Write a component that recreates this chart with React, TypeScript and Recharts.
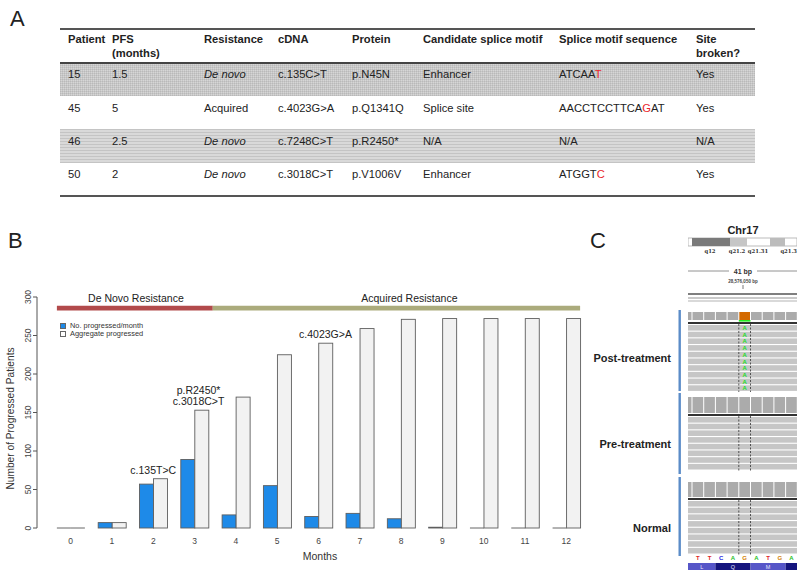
import React from 'react';
import { BarChart, Bar, XAxis, YAxis, ReferenceArea, ReferenceDot, Legend } from 'recharts';

const FONT = '"Liberation Sans", Arial, Helvetica, sans-serif';

// ---------- Panel B data ----------
const months = ['0', '1', '2', '3', '4', '5', '6', '7', '8', '9', '10', '11', '12'];
const progressedPerMonth = [0, 7, 57, 89, 17, 55, 15, 19, 12, 1, 0, 0, 0];
const aggregateProgressed = [0, 7, 64, 153, 170, 225, 240, 259, 271, 272, 272, 272, 272];
const yTicks = [0, 50, 100, 150, 200, 250, 300];

const phaseNames = ['De Novo Resistance', 'Acquired Resistance'];
const phaseStart = [-0.333, 3.44];
const phaseEnd = [3.44, 12.333];
const phaseLabelAt = [1.58, 8.2];
const phaseColors = ['#b24a4b', '#abab7c'];

const noteMonth = [2, 3, 6];
const noteValue = [64, 153, 240];
const noteLines = [['c.135T>C'], ['p.R2450*', 'c.3018C>T'], ['c.4023G>A']];
const noteShift = [0, 4, 7];

// ---------- Panel A data ----------
const tableHeaders = [['Patient'], ['PFS', '(months)'], ['Resistance'], ['cDNA'], ['Protein'], ['Candidate splice motif'], ['Splice motif sequence'], ['Site', 'broken?']];
const patients = ['15', '45', '46', '50'];
const pfsMonths = ['1.5', '5', '2.5', '2'];
const resistanceType = ['De novo', 'Acquired', 'De novo', 'De novo'];
const cdnaChanges = ['c.135C>T', 'c.4023G>A', 'c.7248C>T', 'c.3018C>T'];
const proteinChanges = ['p.N45N', 'p.Q1341Q', 'p.R2450*', 'p.V1006V'];
const spliceMotifs = ['Enhancer', 'Splice site', 'N/A', 'Enhancer'];
const motifSequences = [['ATCAA', 'T', ''], ['AACCTCCTTCA', 'G', 'AT'], ['N/A', '', ''], ['ATGGT', 'C', '']];
const siteBroken = ['Yes', 'Yes', 'N/A', 'Yes'];

// ---------- Panel C data ----------
const refBases = ['T', 'T', 'C', 'A', 'G', 'A', 'T', 'G', 'A'];
const aminoAcids = ['L', 'Q', 'M', ''];
const sampleNames = ['Post-treatment', 'Pre-treatment', 'Normal'];
const readCounts = [10, 8, 8];
const bandLabels = ['q12', 'q21.2', 'q21.31', 'q21.3'];

const chartData = months.map((m, i) => ({ month: m, idx: i, perMonth: progressedPerMonth[i], aggregate: aggregateProgressed[i] }));
const legendOrder = ['perMonth', 'aggregate'];

function BarShape(p: any) {
  const { x, y, width, height, fill } = p;
  if (!(height > 0)) {
    return <line x1={x} x2={x + width} y1={y + (height || 0)} y2={y + (height || 0)} stroke="#666" strokeWidth={1} />;
  }
  return <rect x={x} y={y} width={width} height={height} fill={fill} stroke="#5e5e5e" strokeWidth={0.9} />;
}

const XTick = (p: any) => (
  <text x={p.x} y={p.y} dy={8} textAnchor="middle" fontSize={8.5} fill="#444" fontFamily={FONT}>{p.payload.value}</text>
);
const YTick = (p: any) => (
  <text x={p.x} y={p.y} transform={`rotate(-90 ${p.x} ${p.y})`} textAnchor="middle" fontSize={8.5} fill="#444" fontFamily={FONT}>{p.payload.value}</text>
);

const yLabel = (p: any) => {
  const vb = p.viewBox;
  const cx = vb.x + 14;
  const cy = vb.y + vb.height / 2 + 6;
  return <text x={cx} y={cy} transform={`rotate(-90 ${cx} ${cy})`} textAnchor="middle" fontSize={10.2} fill="#333" fontFamily={FONT}>Number of Progressed Patients</text>;
};
const xLabel = (p: any) => {
  const vb = p.viewBox;
  return <text x={vb.x + vb.width / 2 + 8} y={vb.y + 32} textAnchor="middle" fontSize={10.5} fill="#333" fontFamily={FONT}>Months</text>;
};

const noteLabel = (lines: string[], dx: number) => (p: any) => {
  const { x, y } = p.viewBox;
  const lh = 11.5;
  return (
    <text x={x + dx} y={y - 5 - (lines.length - 1) * lh} textAnchor="middle" fontSize={10.5} fill="#222" fontFamily={FONT}>
      {lines.map((l, i) => <tspan key={i} x={x + dx} dy={i === 0 ? 0 : lh}>{l}</tspan>)}
    </text>
  );
};
const phaseLabel = (name: string) => (p: any) => {
  const { x, y } = p.viewBox;
  return <text x={x} y={y - 4} textAnchor="middle" fontSize={10.5} fill="#222" fontFamily={FONT}>{name}</text>;
};

const renderLegend = (props: any) => {
  const items = [...(props.payload || [])].sort((a: any, b: any) => legendOrder.indexOf(a.dataKey) - legendOrder.indexOf(b.dataKey));
  return (
    <div style={{ fontSize: 7.4, lineHeight: '8px', color: '#333', fontFamily: FONT, whiteSpace: 'nowrap' }}>
      {items.map((e: any) => (
        <div key={e.value} style={{ display: 'flex', alignItems: 'center', height: 8 }}>
          <span style={{ display: 'inline-block', width: 4, height: 4, background: e.color === '#f2f2f2' ? '#fff' : e.color, border: '0.8px solid #666', marginRight: 4 }} />
          <span>{e.value}</span>
        </div>
      ))}
    </div>
  );
};

function ProgressChart() {
  return (
    <BarChart width={800} height={575} data={chartData} margin={{ top: 297, right: 213, bottom: 0, left: 0 }} barCategoryGap="16.67%" barGap={0}>
      <XAxis dataKey="month" height={47} axisLine={false} tickLine={false} tickSize={6} tickMargin={2} tick={XTick} interval={0} padding={{ left: 13, right: 0 }} label={xLabel} />
      <XAxis xAxisId="pos" dataKey="idx" type="number" domain={[0, 12]} allowDataOverflow hide padding={{ left: 33.65, right: 20.65 }} />
      <YAxis width={37} domain={[0, 300]} ticks={yTicks} interval={0} tickSize={4} tickMargin={2} axisLine={{ stroke: '#555' }} tickLine={{ stroke: '#555' }} tick={YTick} label={yLabel} />
      <Legend layout="vertical" align="center" verticalAlign="middle" content={renderLegend} wrapperStyle={{ left: 60, top: 322, width: 140 }} />
      {phaseNames.map((n, i) => (
        <ReferenceArea key={n} xAxisId="pos" x1={phaseStart[i]} x2={phaseEnd[i]} y1={282.5} y2={288.5} fill={phaseColors[i]} fillOpacity={1} stroke="none" ifOverflow="visible" />
      ))}
      {phaseNames.map((n, i) => (
        <ReferenceDot key={'l' + n} xAxisId="pos" x={phaseLabelAt[i]} y={288.5} r={0} fill="none" stroke="none" ifOverflow="visible" label={phaseLabel(n)} />
      ))}
      <Bar dataKey="perMonth" name="No. progressed/month" fill="#1e8ae8" shape={BarShape} isAnimationActive={false} />
      <Bar dataKey="aggregate" name="Aggregate progressed" fill="#f2f2f2" shape={BarShape} isAnimationActive={false} />
      {noteMonth.map((m, i) => (
        <ReferenceDot key={'n' + i} xAxisId="pos" x={m} y={noteValue[i]} r={0} fill="none" stroke="none" ifOverflow="visible" label={noteLabel(noteLines[i], noteShift[i])} />
      ))}
    </BarChart>
  );
}

// ---------- Panel A ----------
const colX = [68, 112, 204, 278, 352, 423, 559, 696];
const rowTop = 63;
const rowH = 33.2;

function Cell({ x, cy, children, bold, italic }: any) {
  return (
    <div style={{ position: 'absolute', left: x, top: cy - 7, height: 14, lineHeight: '14px', fontSize: 11.2, fontWeight: bold ? 700 : 400, fontStyle: italic ? 'italic' : 'normal', whiteSpace: 'nowrap', color: '#222' }}>{children}</div>
  );
}

function TablePanel() {
  const rows = patients.map((p, i) => [p, pfsMonths[i], resistanceType[i], cdnaChanges[i], proteinChanges[i], spliceMotifs[i], motifSequences[i], siteBroken[i]]);
  const band0 = 'repeating-linear-gradient(0deg, rgba(0,0,0,0.07) 0 1px, transparent 1px 2px), repeating-linear-gradient(90deg, rgba(0,0,0,0.07) 0 1px, transparent 1px 2px), #d6d6d6';
  const band2 = 'repeating-linear-gradient(0deg, #c4c4c4 0 1px, #d9d9d9 1px 3px)';
  return (
    <div style={{ position: 'absolute', left: 0, top: 0, width: 800, height: 210 }}>
      <div style={{ position: 'absolute', left: 60, width: 695, top: 28, height: 2, background: '#555' }} />
      <div style={{ position: 'absolute', left: 60, width: 695, top: rowTop, height: rowH, background: band0 }} />
      <div style={{ position: 'absolute', left: 60, width: 695, top: rowTop + 2 * rowH, height: rowH, background: band2 }} />
      <div style={{ position: 'absolute', left: 60, width: 695, top: 62, height: 1.5, background: '#444' }} />
      <div style={{ position: 'absolute', left: 60, width: 695, top: 195, height: 2, background: '#555' }} />
      {tableHeaders.map((h, c) => h.map((t, k) => <Cell key={c + '-' + k} x={colX[c]} cy={39 + k * 14} bold>{t}</Cell>))}
      {rows.map((r, i) => r.map((v: any, c) => {
        const cy = rowTop + i * rowH + 11.3;
        if (c === 6) {
          return <Cell key={i + '-' + c} x={colX[c]} cy={cy}>{v[0]}<span style={{ color: '#e8262b' }}>{v[1]}</span>{v[2]}</Cell>;
        }
        return <Cell key={i + '-' + c} x={colX[c]} cy={cy} italic={c === 2 && v === 'De novo'}>{v}</Cell>;
      }))}
    </div>
  );
}

// ---------- Panel C ----------
const baseColor: Record<string, string> = { T: '#e02525', C: '#2525e0', A: '#25c025', G: '#d48000' };

function IGVPanel() {
  const x0 = 688, x1 = 797;
  const gx = (i: number) => 692 + i * 11.7;
  const sections = [
    { top: 310, bottom: 391, covTop: 312, covH: 8, lineY: 322, readsTop: 325, labelY: 358 },
    { top: 393, bottom: 474, covTop: 397, covH: 16, lineY: 414, readsTop: 417, labelY: 444 },
    { top: 477, bottom: 556, covTop: 482, covH: 15, lineY: 498, readsTop: 501, labelY: 528 },
  ];
  const boxes = [-1, 0, 1, 2, 3, 4, 5, 6, 7, 8];
  const bandX = [710, 737, 758, 797];
  return (
    <svg width={800} height={575} style={{ position: 'absolute', left: 0, top: 0 }} fontFamily={FONT}>
      <defs>
        <clipPath id="igvclip"><rect x={x0} y={220} width={x1 - x0} height={360} /></clipPath>
      </defs>
      <text x={10} y={26} fontSize={22} fill="#222">A</text>
      <text x={8} y={248} fontSize={22} fill="#222">B</text>
      <text x={590} y={248} fontSize={22} fill="#222">C</text>

      <text x={743} y={234} textAnchor="middle" fontSize={11} fontWeight={700} fill="#222">Chr17</text>
      {bandLabels.map((b, i) => (
        <text key={b} x={bandX[i]} y={253} textAnchor={i === 3 ? 'end' : 'middle'} fontSize={5.3} fontWeight={700} fontFamily="'DejaVu Serif', serif" fill="#333">{b}</text>
      ))}
      <g clipPath="url(#igvclip)">
        <rect x={688} y={238} width={109} height={8} fill="#fff" stroke="#aaa" strokeWidth={0.8} />
        <rect x={692} y={238} width={38} height={8} fill="#7a7a7a" />
        <rect x={730} y={238} width={17} height={8} fill="#c6c6c6" />
        <rect x={770} y={238} width={15} height={8} fill="#bcbcbc" />
        <line x1={688} x2={729} y1={271} y2={271} stroke="#777" strokeWidth={0.8} />
        <line x1={757} x2={797} y1={271} y2={271} stroke="#777" strokeWidth={0.8} />
        <text x={743} y={273.5} textAnchor="middle" fontSize={7} fontWeight={700} fill="#333">41 bp</text>
        <text x={743} y={283} textAnchor="middle" fontSize={4.5} fontWeight={700} fill="#444">28,576,050 bp</text>
        <line x1={743} x2={743} y1={285} y2={289} stroke="#555" strokeWidth={0.8} />
        <line x1={688} x2={797} y1={294} y2={294} stroke="#555" strokeWidth={1.6} />
        <line x1={688} x2={797} y1={298} y2={298} stroke="#888" strokeWidth={0.9} />
        <line x1={688} x2={797} y1={301} y2={301} stroke="#aaa" strokeWidth={0.9} />

        {sections.map((s, si) => (
          <g key={si}>
            {boxes.map((b) => (
              <rect key={b} x={gx(b) + 0.5} y={s.covTop} width={10.7} height={s.covH} fill={si === 0 && b === 4 ? '#d36a00' : '#ababab'} />
            ))}
            {si === 0 && <rect x={gx(4)} y={s.covTop + s.covH} width={11.7} height={1.6} fill="#22ee22" />}
            <rect x={x0} y={s.lineY} width={x1 - x0} height={2} fill="#333" />
            {Array.from({ length: readCounts[si] }).map((_, r) => (
              <g key={r}>
                <rect x={x0} y={s.readsTop + r * 6.7} width={x1 - x0} height={5.6} fill="#c6c6c6" />
                {si === 0 && <text x={gx(4) + 5.85} y={s.readsTop + r * 6.7 + 5} textAnchor="middle" fontSize={6} fontWeight={700} fill="#22dd22">A</text>}
              </g>
            ))}
            <line x1={gx(4)} x2={gx(4)} y1={s.readsTop - 1} y2={s.readsTop + readCounts[si] * 6.7} stroke="#333" strokeWidth={0.8} strokeDasharray="2 1.5" />
            <line x1={gx(5)} x2={gx(5)} y1={s.readsTop - 1} y2={s.readsTop + readCounts[si] * 6.7} stroke="#333" strokeWidth={0.8} strokeDasharray="2 1.5" />
          </g>
        ))}
        {refBases.map((b, i) => (
          <text key={i} x={gx(i) + 5.85} y={560} textAnchor="middle" fontSize={6} fontWeight={700} fill={baseColor[b]}>{b}</text>
        ))}
        {aminoAcids.map((a, i) => (
          <g key={i}>
            <rect x={gx(-1 + i * 3)} y={563} width={35.1} height={7} fill={i % 2 === 0 ? '#5656c8' : '#15157e'} />
            <text x={gx(-1 + i * 3) + 17.5 + (i === 0 ? 4 : 0)} y={569} textAnchor="middle" fontSize={5.5} fill="#e6e6ff">{a}</text>
          </g>
        ))}
      </g>
      {sections.map((s, si) => (
        <g key={'l' + si}>
          <rect x={678.5} y={s.top} width={2.4} height={s.bottom - s.top} fill="#5b8cc8" />
          <text x={671} y={s.labelY + 4} textAnchor="end" fontSize={11} fontWeight={700} fill="#222">{sampleNames[si]}</text>
        </g>
      ))}
    </svg>
  );
}

export default function App() {
  return (
    <div style={{ position: 'absolute', left: 0, top: 0, width: 800, height: 575, background: '#fff', overflow: 'hidden', fontFamily: FONT }}>
      <IGVPanel />
      <TablePanel />
      <div style={{ position: 'absolute', left: 0, top: 0 }}>
        <ProgressChart />
      </div>
    </div>
  );
}
